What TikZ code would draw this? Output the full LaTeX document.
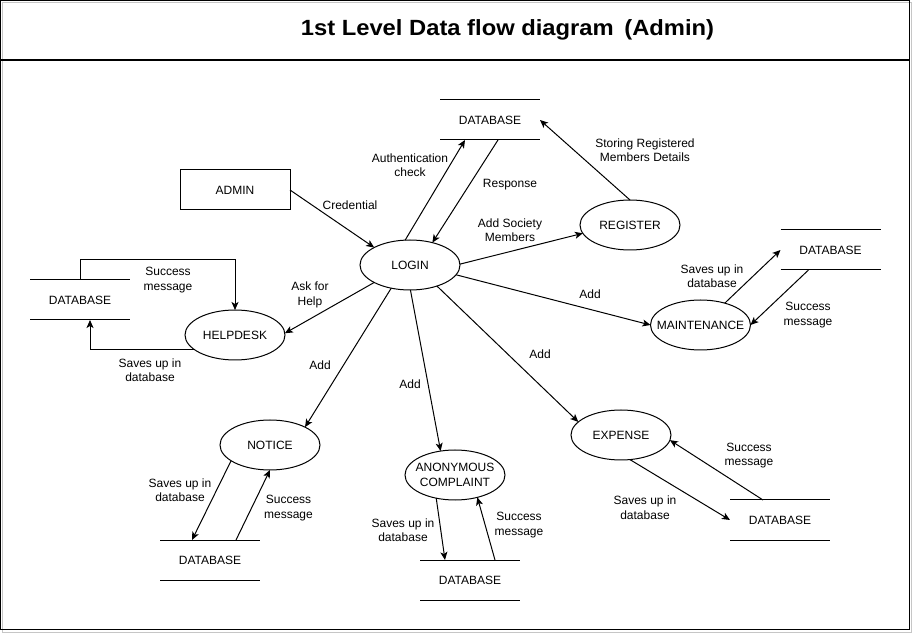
\documentclass[tikz,border=0pt]{standalone}
\usepackage{fontspec}
\setmainfont{Liberation Sans}
\usetikzlibrary{arrows.meta,calc,shapes.geometric}
\begin{document}
\begin{tikzpicture}[x=1pt,y=-1pt,
  every node/.style={font=\fontsize{12}{14.5}\selectfont, inner sep=0pt, outer sep=0pt},
  proc/.style={ellipse, draw, line width=1pt, minimum width=100pt, minimum height=50pt, inner xsep=-20pt, inner ysep=0pt, align=center},
  ent/.style={rectangle, draw, line width=1pt, minimum width=110pt, minimum height=40pt},
  store/.style={rectangle, minimum width=100pt, minimum height=40pt},
  lbl/.style={align=center},
  flow/.style={line width=1pt, -{Stealth[length=8pt,width=7pt,inset=2pt]}},
  plain/.style={line width=1pt}
]
\useasboundingbox (0,0) rectangle (914,636);
% frame
\draw[gray!45, line width=1pt] (2.5,2.5) rectangle (911.5,632.5);
\draw[line width=1.2pt] (0.6,0.6) rectangle (909.4,629.8);
\draw[line width=1.2pt] (0.6,60) -- (909.4,60);
\node[font=\fontsize{22}{26}\selectfont\bfseries] (title) at (507.5,30) {\scalebox{1.08}[1]{1st Level Data flow diagram\ \,(Admin)}};

% nodes
\node[ent] (admin) at (235,190) {ADMIN};
\node[store] (db1) at (490,120) {DATABASE};
\node[proc] (login) at (410,265) {LOGIN};
\node[proc] (register) at (630,225) {REGISTER};
\node[store] (dbr) at (830.5,250) {DATABASE};
\node[proc] (maint) at (700.5,325) {MAINTENANCE};
\node[store] (dbl) at (80,300) {DATABASE};
\node[proc] (help) at (235,335) {HELPDESK};
\node[proc] (notice) at (270,445) {NOTICE};
\node[store] (dbn) at (210,560) {DATABASE};
\node[proc] (anon) at (455,475) {ANONYMOUS\\COMPLAINT};
\node[store] (dbb) at (470,580) {DATABASE};
\node[proc] (expense) at (621,435) {EXPENSE};
\node[store] (dbe) at (780,520) {DATABASE};

\foreach \n in {db1,dbr,dbl,dbn,dbb,dbe}{
  \draw[plain] (\n.north west) -- (\n.north east) (\n.south west) -- (\n.south east);
}

% connectors
\draw[flow] (admin.east) -- (login.154);
\draw[flow] (login.101) -- ([xshift=25pt]db1.south west);
\draw[flow] ([xshift=58pt]db1.south west) -- (login.45);
\draw[flow] (login.1) -- (register.190);
\draw[flow] (register.north) -- (db1.east);
\draw[flow] (login.348) -- (maint.west);
\draw[flow] (maint.42) -- (dbr.west);
\draw[flow] ([xshift=28pt]dbr.south west) -- (maint.east);
\draw[flow] (login.206) -- (help.2);
\draw[flow] (dbl.north) -- ++(0,-20) -| (help.north);
\draw[flow] (help.199) -| ([xshift=10pt]dbl.south);
\draw[flow] (login.231) -- (notice.27);
\draw[flow] (notice.202) -- ([xshift=32pt]dbn.north west);
\draw[flow] ([xshift=76pt]dbn.north west) -- (notice.south);
\draw[flow] (login.271) -- (anon.121);
\draw[flow] (anon.231) -- ([xshift=25pt]dbb.north west);
\draw[flow] ([xshift=75pt]dbb.north west) -- (anon.315);
\draw[flow] (login.322) -- (expense.163);
\draw[flow] (expense.290) -- (dbe.west);
\draw[flow] ([xshift=33pt]dbe.north west) -- (expense.354);

% labels
\node[lbl] (l1) at (350,205) {Credential};
\node[lbl] (l2) at (410,165) {Authentication\\check};
\node[lbl] (l3) at (510,185) {Response};
\node[lbl] (l4) at (510,230) {Add Society\\Members};
\node[lbl] (l5) at (645,150) {Storing Registered\\Members Details};
\node[lbl] (l6) at (590,294) {Add};
\node[lbl] (l7) at (712,276) {Saves up in\\database};
\node[lbl] (l8) at (808,315) {Success\\message};
\node[lbl] (l9) at (168,280) {Success\\message};
\node[lbl] (l10) at (150,370) {Saves up in\\database};
\node[lbl] (l11) at (310,295) {Ask for\\Help};
\node[lbl] (l12) at (320,365) {Add};
\node[lbl] (l13) at (410,384) {Add};
\node[lbl] (l14) at (540,354) {Add};
\node[lbl] (l15) at (180,490) {Saves up in\\database};
\node[lbl] (l16) at (288.5,508) {Success\\message};
\node[lbl] (l17) at (403,530) {Saves up in\\database};
\node[lbl] (l18) at (519,525) {Success\\message};
\node[lbl] (l19) at (749,455.5) {Success\\message};
\node[lbl] (l20) at (645,507.5) {Saves up in\\database};
\end{tikzpicture}
\end{document}
